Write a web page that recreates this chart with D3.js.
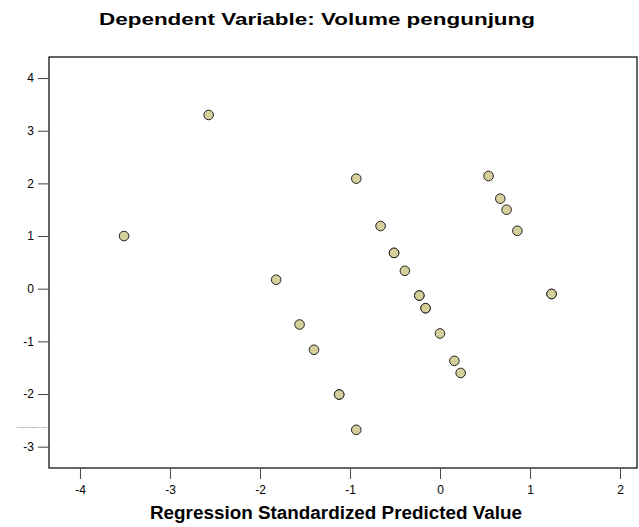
<!DOCTYPE html>
<html><head><meta charset="utf-8">
<script src="https://cdn.jsdelivr.net/npm/d3@7"></script>
<style>body{margin:0;background:#fff}svg{display:block}</style>
</head><body>
<script>
const predicted = [-3.51,-2.57,-1.82,-1.56,-1.40,-1.12,-1.12,-0.93,-0.93,-0.66,-0.51,-0.51,-0.39,-0.23,-0.23,-0.16,-0.16,0.00,0.16,0.23,0.54,0.67,0.74,0.86,1.24,1.24];
const residual  = [1.00,3.30,0.17,-0.68,-1.16,-2.01,-2.01,2.09,-2.68,1.19,0.68,0.68,0.34,-0.13,-0.13,-0.37,-0.37,-0.85,-1.37,-1.60,2.14,1.71,1.50,1.10,-0.10,-0.10];
const xTicks = [-4,-3,-2,-1,0,1,2];
const yTicks = [-3,-2,-1,0,1,2,3,4];
const title = "Dependent Variable: Volume pengunjung";
const xLabel = "Regression Standardized Predicted Value";
const yLabel = "Regression Standardized Residual";

const W=639,H=527;
const L=49,R=637,T=57,B=468;
const svg=d3.select("body").append("svg").attr("width",W).attr("height",H);
const x=d3.scaleLinear().domain([-4.344,2.189]).range([L,R]);
const y=d3.scaleLinear().domain([-3.405,4.40]).range([B,T]);
const font="Liberation Sans, Arial, sans-serif";

svg.append("rect").attr("x",L).attr("y",T).attr("width",R-L).attr("height",B-T)
  .attr("fill","none").attr("stroke","#000").attr("stroke-width",1.2);

const xa=svg.append("g").attr("transform",`translate(0,${B})`)
  .call(d3.axisBottom(x).tickValues(xTicks).tickSize(11).tickPadding(6).tickFormat(d3.format("d")));
const ya=svg.append("g").attr("transform",`translate(${L},0)`)
  .call(d3.axisLeft(y).tickValues(yTicks).tickSize(11).tickPadding(4).tickFormat(d3.format("d")));
[xa,ya].forEach(a=>{
  a.select(".domain").remove();
  a.selectAll("line").attr("stroke","#444");
  a.selectAll("text").attr("font-family",font).attr("font-size",12).attr("fill","#000");
});
xa.selectAll("text").text(d=>d<0?"-"+Math.abs(d):d);
ya.selectAll("text").text(d=>d<0?"-"+Math.abs(d):d);

svg.append("g").selectAll("circle").data(predicted.map((p,i)=>[p,residual[i]])).join("circle")
  .attr("cx",d=>x(d[0])).attr("cy",d=>y(d[1])).attr("r",4.8)
  .attr("fill","#d5cf9c").attr("stroke","#222").attr("stroke-width",1);

svg.append("text").attr("x",317).attr("y",25).attr("text-anchor","middle")
  .attr("font-family",font).attr("font-weight","bold").attr("font-size",17)
  .attr("textLength",436).attr("lengthAdjust","spacingAndGlyphs").text(title);
svg.append("text").attr("x",336).attr("y",519).attr("text-anchor","middle")
  .attr("font-family",font).attr("font-weight","bold").attr("font-size",17.5)
  .attr("textLength",372).attr("lengthAdjust","spacingAndGlyphs").text(xLabel);
svg.append("text").attr("x",32).attr("y",428).attr("text-anchor","middle")
  .attr("font-family",font).attr("font-size",2).attr("fill","#555").text(yLabel);
</script>
</body></html>
